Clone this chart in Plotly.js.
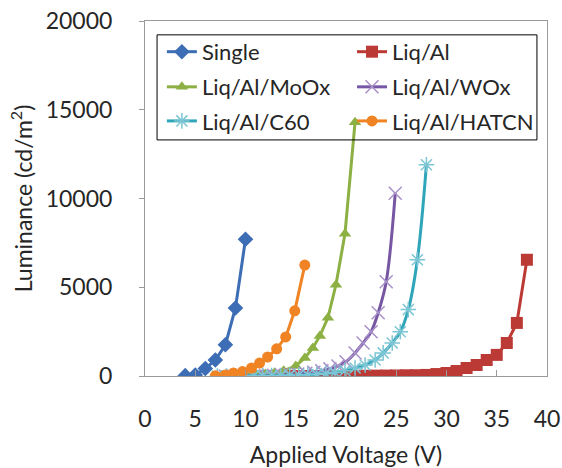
<!DOCTYPE html>
<html>
<head>
<meta charset="utf-8">
<script src="https://cdn.plot.ly/plotly-3.0.1.min.js"></script>
<style>html,body{margin:0;padding:0;background:#fff;}#chart{width:562px;height:468px;}</style>
</head>
<body>
<div id="chart"></div>
<script>
// ---- data ----
const singleV = [4, 5, 6, 7, 8, 9, 10];
const singleL = [20, 60, 420, 900, 1760, 3830, 7700];

const liqAlV = [12, 13, 14, 15, 16, 17, 18, 19, 20, 21, 22, 23, 24, 25, 26, 27, 28, 29, 30, 31, 32, 33, 34, 35, 36, 37, 38];
const liqAlL = [0, 0, 0, 0, 0, 0, 5, 5, 10, 10, 15, 20, 25, 30, 40, 45, 60, 110, 170, 280, 450, 620, 900, 1190, 1860, 2990, 6550];

const mooxV = [7.5, 8.4, 9.3, 10.2, 11.1, 12.0, 12.9, 13.8, 15.0, 15.9, 16.7, 17.4, 18.2, 19.0, 19.9, 20.9];
const mooxL = [0, 10, 20, 40, 70, 110, 180, 300, 565, 1020, 1580, 2260, 3280, 5140, 8020, 14300];

const woxV = [8.0, 8.8, 9.6, 10.4, 11.2, 12.0, 12.8, 13.6, 14.4, 15.2, 16.0, 16.8, 17.6, 18.4, 19.2, 20.0, 20.9, 21.7, 22.5, 23.2, 24.0, 24.9];
const woxL = [0, 0, 10, 10, 20, 30, 40, 60, 80, 110, 150, 210, 290, 400, 560, 800, 1300, 1860, 2490, 3560, 5310, 10300];

const c60V = [7.2, 8.1, 9.0, 9.9, 10.8, 11.7, 12.6, 13.5, 14.4, 15.3, 16.2, 17.1, 18.0, 18.9, 19.9, 20.9, 21.9, 22.9, 23.7, 24.6, 25.4, 26.2, 27.1, 28.0];
const c60L = [0, 0, 0, 10, 10, 20, 20, 30, 40, 50, 70, 100, 140, 200, 300, 450, 620, 900, 1300, 1860, 2490, 3740, 6550, 11900];

const hatcnV = [7.0, 8.0, 8.8, 9.7, 10.6, 11.4, 12.2, 13.1, 14.0, 14.9, 15.9];
const hatcnL = [10, 60, 170, 250, 450, 730, 1070, 1530, 2200, 3670, 6250];

const seriesNames = ["Single", "Liq/Al", "Liq/Al/MoOx", "Liq/Al/WOx", "Liq/Al/C60", "Liq/Al/HATCN"];
const xTicks = [0, 5, 10, 15, 20, 25, 30, 35, 40];
const yTicks = [0, 5000, 10000, 15000, 20000];

// ---- styling ----
const FONT = "Lato, 'Open Sans', sans-serif";
const TXT = "#262626";

function tr(x, y, name, color, marker, legend, shape) {
  return {
    x: x, y: y, name: name, type: "scatter", mode: "lines+markers",
    line: {color: color, width: 3, shape: shape || "linear", smoothing: 1},
    marker: marker, legend: legend
  };
}

const data = [
  tr(singleV, singleL, seriesNames[0], "#3D6DB5", {symbol: "diamond", size: 12, color: "#3D6DB5"}, "legend"),
  tr(liqAlV, liqAlL, seriesNames[1], "#BC3A35", {symbol: "square", size: 12, color: "#BC3A35"}, "legend2"),
  tr(mooxV, mooxL, seriesNames[2], "#8CB043", {symbol: "triangle-up", size: 11, color: "#8CB043"}, "legend3"),
  tr(woxV, woxL, seriesNames[3], "#7757A3", {symbol: "x-thin-open", size: 13, color: "#A891C9", line: {color: "#A891C9", width: 1.5}}, "legend4", "spline"),
  tr(c60V, c60L, seriesNames[4], "#2FA5B9", {symbol: "asterisk-open", size: 13, color: "#7CC5D4", line: {color: "#7CC5D4", width: 1.5}}, "legend5", "spline"),
  tr(hatcnV, hatcnL, seriesNames[5], "#F08424", {symbol: "circle", size: 11, color: "#F08424"}, "legend6")
];

const leg = (x, y) => ({
  x: x, y: y, xanchor: "left", yanchor: "middle",
  bgcolor: "rgba(0,0,0,0)", borderwidth: 0,
  font: {family: FONT, size: 22, color: TXT},
  itemwidth: 30
});

const c1 = 0.042, c2 = 0.515;
const r1 = 0.913, r2 = 0.814, r3 = 0.718;

const layout = {
  width: 562, height: 468,
  margin: {l: 145, r: 15, t: 21, b: 92},
  paper_bgcolor: "#fff", plot_bgcolor: "#fff",
  font: {family: FONT, color: TXT},
  showlegend: true,
  legend: leg(c1, r1), legend2: leg(c2, r1),
  legend3: leg(c1, r2), legend4: leg(c2, r2),
  legend5: leg(c1, r3), legend6: leg(c2, r3),
  xaxis: {
    range: [0, 40], tickvals: xTicks, ticktext: xTicks.map(String),
    showgrid: false, zeroline: false,
    showline: true, linecolor: "#9a9a9a", linewidth: 1, mirror: true,
    ticks: "inside", ticklen: 6, tickcolor: "#9a9a9a",
    ticklabelstandoff: 22,
    tickfont: {family: FONT, size: 23, color: TXT},
    title: {text: "Applied Voltage (V)", font: {family: FONT, size: 23, color: TXT}, standoff: 17}
  },
  yaxis: {
    range: [0, 20000], tickvals: yTicks, ticktext: yTicks.map(String),
    showgrid: false, zeroline: false,
    showline: true, linecolor: "#9a9a9a", linewidth: 1, mirror: true,
    ticks: "outside", ticklen: 5, tickcolor: "#9a9a9a",
    ticklabelstandoff: 22,
    tickfont: {family: FONT, size: 23, color: TXT},
    title: {text: "Luminance (cd/m<sup>2</sup>)", font: {family: FONT, size: 23, color: TXT}, standoff: 6}
  },
  shapes: [{
    type: "rect", xref: "paper", yref: "paper",
    x0: 0.030, x1: 0.975, y0: 0.665, y1: 0.961,
    line: {color: "#000", width: 1}, fillcolor: "rgba(0,0,0,0)", layer: "above"
  }]
};

Plotly.newPlot("chart", data, layout, {displayModeBar: false, staticPlot: true});
</script>
</body>
</html>
